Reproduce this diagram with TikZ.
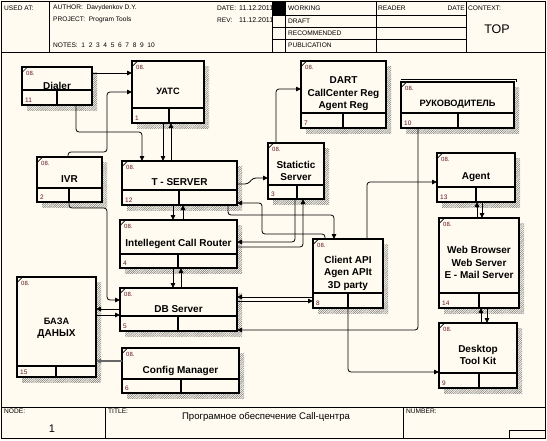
\documentclass[tikz,border=0pt]{standalone}
\usepackage{fontspec}
\setmainfont{Liberation Sans}
\usetikzlibrary{arrows.meta,patterns.meta}
\definecolor{bg}{RGB}{255,251,240}
\definecolor{numcol}{RGB}{100,20,40}
\tikzset{
  boxst/.style={draw, line width=1.5pt, fill=bg, inner sep=0pt, outer sep=0pt, rectangle},
  divline/.style={line width=1.3pt},
  conn/.style={line width=0.8pt, rounded corners=3pt},
  arr/.style={-{Triangle[length=5pt,width=4.5pt]}},
  titlest/.style={font=\fontsize{10}{12.5}\selectfont\bfseries, align=center, inner sep=0pt},
  numst/.style={font=\fontsize{6.5}{7}\selectfont, text=numcol, inner sep=0pt},
  smallst/.style={font=\fontsize{6}{7}\selectfont, text=numcol, inner sep=0pt},
  hdr/.style={font=\fontsize{6.6}{7}\selectfont, inner sep=0pt, anchor=west},
  hdrline/.style={line width=1pt},
  shadowst/.style={pattern={Lines[angle=45,distance=1.5pt,line width=0.45pt]}, pattern color=black!55},
}
\newcommand\idefbox[9]{%
  \path[shadowst] (#2+5,#3+5) rectangle (#4+5,#5+5);
  \node[boxst, minimum width={#4-#2}, minimum height={#5-#3}, anchor=north west] (#1) at (#2,#3) {};
  \draw[divline] (#1.west |- 0,#6) -- (#1.east |- 0,#6);
  \draw[divline] (#7,#6) -- (#1.south -| #7,0);
  \draw[line width=0.7pt] (#2+0.5,#3+5) -- (#2+5,#3+0.5);
  \node[smallst, anchor=west] (#1c) at (#2+4,#3+6.5) {08.};
  \node[numst, anchor=west] (#1n) at (#2+3,#5-5) {#8};
  \node[titlest] (#1t) at ({(#2+#4)/2},{(#3+#6)/2+7}) {#9};
}
\begin{document}
\begin{tikzpicture}[x=1pt,y=-1pt]
\useasboundingbox (0,0) rectangle (547,440);
\fill[bg] (0,0) rectangle (547,440);

% ---------- header ----------
\node[hdr] (usedat) at (4,8) {USED AT:};
\node[hdr] (author) at (53,8) {AUTHOR:\ \ Davydenkov D.Y.};
\node[hdr] (project) at (53,20) {PROJECT:\ \ Program Tools};
\node[hdr] (notes) at (53,45) {NOTES:\ \ 1\ \ 2\ \ 3\ \ 4\ \ 5\ \ 6\ \ 7\ \ 8\ \ 9\ \ 10};
\node[hdr] (datelbl) at (217,8) {DATE:};
\node[hdr,font=\fontsize{7}{8}\selectfont] (dateval) at (239,8) {11.12.2011};
\node[hdr] (revlbl) at (217,20) {REV:};
\node[hdr,font=\fontsize{7}{8}\selectfont] (revval) at (239,20) {11.12.2011};
\fill[bg] (272,15) rectangle (285,52);
\fill[black] (272,1.5) rectangle (285,15);
\draw[hdrline] (1.5,1.5) rectangle (545.5,438.5);
\draw[hdrline] (1.5,52) -- (545.5,52);
\draw[hdrline] (49,1.5) -- (49,52);
\draw[hdrline] (272,1.5) -- (272,52);
\draw[hdrline] (285,1.5) -- (285,52);
\draw[hdrline] (376,1.5) -- (376,52);
\draw[hdrline] (466,1.5) -- (466,52);
\draw[hdrline] (272,15) -- (466,15);
\draw[hdrline] (272,27) -- (466,27);
\draw[hdrline] (272,39) -- (466,39);
\node[hdr] (working) at (288,8.5) {WORKING};
\node[hdr] (draft) at (288,21) {DRAFT};
\node[hdr] (recom) at (288,33) {RECOMMENDED};
\node[hdr] (publ) at (288,45.5) {PUBLICATION};
\node[hdr] (reader) at (378,8.5) {READER};
\node[hdr,anchor=east] (rdate) at (465,8.5) {DATE};
\node[hdr] (context) at (468,8.5) {CONTEXT:};
\node[font=\fontsize{12.5}{14}\selectfont, inner sep=0pt] (top) at (497,29) {TOP};

% ---------- footer ----------
\draw[hdrline] (1.5,407) -- (545.5,407);
\draw[hdrline] (105,407) -- (105,438.5);
\draw[hdrline] (403,407) -- (403,438.5);
\draw[hdrline] (509,430) rectangle (545.5,438.5);
\node[hdr] (nodelbl) at (4,411) {NODE:};
\node[hdr] (titlelbl) at (108,411) {TITLE:};
\node[hdr] (numberlbl) at (406,411) {NUMBER:};
\node[font=\fontsize{11}{12}\selectfont, inner sep=0pt] (nodenum) at (52,429) {1};
\node[font=\fontsize{9.6}{11}\selectfont, inner sep=0pt] (titletext) at (266,417) {Програмное обеспечение Call-центра};

% ---------- boxes ----------
\idefbox{dialer}{22}{67}{92}{105}{90}{57}{11}{Dialer}
\idefbox{uatc}{132}{61}{204}{123}{108}{169}{1}{\fontsize{9.2}{11}\selectfont УАТС}
\idefbox{ivr}{37}{157}{102}{202}{188}{69}{2}{IVR}
\idefbox{tserver}{122}{161}{237}{205}{190}{179}{12}{T - SERVER}
\idefbox{icr}{120}{220}{237}{268}{254}{178}{4}{Intellegent Call Router}
\idefbox{db}{120}{288}{237}{331}{316}{178}{5}{DB Server}
\idefbox{baza}{17}{277}{96}{377}{366}{56}{15}{\fontsize{9.2}{12.5}\selectfont БАЗА\\ДАНЫХ}
\idefbox{config}{122}{348}{239}{393}{379}{181}{6}{Config Manager}
\idefbox{stat}{268}{143}{324}{199}{185}{297}{3}{Statictic\\Server}
\idefbox{dart}{301}{61}{386}{128}{113}{343}{7}{DART\\CallCenter Reg\\Agent Reg}
\draw[line width=0.6pt] (401,79.5) -- (516,79.5) -- (516,82);
\idefbox{ruk}{401}{82}{514}{128}{113}{458}{10}{\fontsize{9.2}{11}\selectfont РУКОВОДИТЕЛЬ}
\idefbox{agent}{437}{153}{515}{202}{187}{476}{13}{Agent}
\idefbox{web}{439}{218}{519}{308}{293}{479}{14}{Web Browser\\Web Server\\E - Mail Server}
\idefbox{desk}{439}{323}{517}{388}{373}{479}{9}{Desktop\\Tool Kit}
\idefbox{capi}{313}{239}{383}{308}{293}{348}{8}{Client API\\Agen APIt\\3D party}

% ---------- connectors ----------
\draw[conn,arr] (dialer.east |- 0,73) -- (uatc.west |- 0,73);
\draw[conn,arr] (ivr.north -| 68,0) -- (68,152) -- (107,152) -- (107,92) -- (uatc.west |- 0,92);
\draw[conn,arr] (dialer.south -| 76,0) -- (76,132) -- (142,132) -- (tserver.north -| 142,0);
\draw[conn,arr] (uatc.south -| 163,0) -- (tserver.north -| 163,0);
\draw[conn,arr] (tserver.north -| 171,0) -- (uatc.south -| 171,0);
\draw[conn,arr] (tserver.east |- 0,184) -- (248,184) -- (253,178) -- (stat.west |- 0,178);
\draw[conn,arr] (stat.north -| 276,0) -- (276,89) -- (dart.west |- 0,89);
\draw[conn,arr] (tserver.south -| 173,0) -- (icr.north -| 173,0);
\draw[conn,arr] (icr.north -| 183,0) -- (tserver.south -| 183,0);
\draw[conn,arr] (icr.south -| 173,0) -- (db.north -| 173,0);
\draw[conn,arr] (db.north -| 181,0) -- (icr.south -| 181,0);
\draw[conn,arr] (ivr.south -| 69,0) -- (69,208) -- (107,208) -- (107,300) -- (db.west |- 0,300);
\draw[conn,arr] (db.west |- 0,309) -- (baza.east |- 0,309);
\draw[conn,arr] (baza.east |- 0,315) -- (db.west |- 0,315);
\draw[conn,arr,line width=1.2pt,draw=black!60] (config.west |- 0,361) -- (baza.east |- 0,361);
\draw[conn,arr] (capi.north -| 325,0) -- (325,234) -- (262,234) -- (262,203) -- (tserver.east |- 0,203);
\draw[conn,arr] (tserver.south -| 228,0) -- (228,215) -- (334,215) -- (capi.north -| 334,0);
\draw[conn,arr] (stat.south -| 295,0) -- (295,242) -- (icr.east |- 0,242);
\draw[conn,arr] (icr.east |- 0,247) -- (303,247) -- (stat.south -| 303,0);
\draw[conn,arr] (capi.west |- 0,297) -- (db.east |- 0,297);
\draw[conn,arr] (db.east |- 0,301) -- (capi.west |- 0,301);
\draw[conn,arr] (ruk.south -| 418,0) -- (418,330) -- (db.east |- 0,330);
\draw[conn,arr] (capi.north -| 367,0) -- (367,182) -- (agent.west |- 0,182);
\draw[conn,arr] (web.north -| 477,0) -- (agent.south -| 477,0);
\draw[conn,arr] (agent.south -| 482,0) -- (web.north -| 482,0);
\draw[conn,arr] (desk.north -| 481,0) -- (web.south -| 481,0);
\draw[conn,arr] (web.south -| 487,0) -- (desk.north -| 487,0);
\draw[conn,arr] (capi.south -| 348,0) -- (348,372) -- (desk.west |- 0,372);
\end{tikzpicture}
\end{document}
